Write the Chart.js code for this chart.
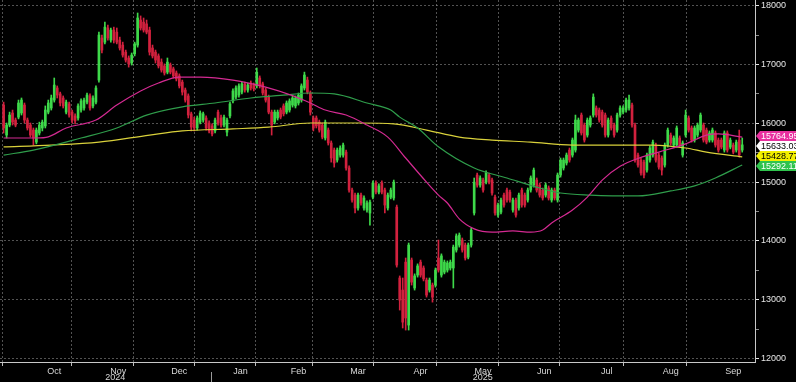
<!DOCTYPE html>
<html><head><meta charset="utf-8">
<style>html,body{margin:0;padding:0;background:#000;overflow:hidden}canvas{display:block}</style>
<script src="https://cdn.jsdelivr.net/npm/chart.js@4.4.1/dist/chart.umd.min.js"></script>
</head><body>
<canvas id="c" width="796" height="382"></canvas>
<script>
// session index of first candle (0 = first trading day of Oct 2024)
const firstSession = -6;
const opens = [
16310,15800,15970,16175,16055,16105,16175,16310,16055,15970,
15885,15680,15835,15920,15955,16190,16260,16395,16600,16500,
16430,16190,16330,16190,16125,16090,16225,16260,16360,16465,
16295,16360,16735,17450,17380,17620,17415,17585,17550,17415,
17330,17210,17110,17025,17180,17330,17755,17720,17690,17585,
17280,17210,17145,17040,16975,16870,16990,16925,16855,16805,
16700,16565,16465,16160,16055,15920,16020,16055,16090,16005,
15955,15870,16190,16090,15970,15850,16125,16380,16445,16480,
16530,16670,16565,16685,16650,16635,16770,16670,16565,16445,
16190,16020,16090,16225,16295,16190,16225,16310,16295,16345,
16395,16600,16735,16515,16090,16090,16020,15970,15750,15885,
15665,15545,15375,15460,15460,15510,15240,14865,14780,14560,
14780,14560,14525,14475,14745,14985,14830,14985,14865,14560,
14745,14730,14575,13370,13165,13640,12570,13675,13200,13420,
13640,13540,13335,13165,13250,13250,13710,13420,13470,13505,
13540,13540,13845,13930,14015,13930,13725,13930,14475,15120,
14950,15035,15000,15120,15035,14745,14440,14490,14780,14865,
14830,14525,14695,14560,14865,14780,14695,14865,14950,15035,
14950,14865,14780,14900,14695,14865,14695,15120,15240,15325,
15545,15460,15545,15885,16140,15970,15800,15970,16140,16260,
16225,16190,16140,15800,16090,15970,15885,16140,16190,16225,
16260,16310,15970,15460,15375,15340,15205,15375,15460,15630,
15460,15410,15290,15630,15800,15630,15630,15750,15460,15800,
16090,15920,15715,15800,15885,15970,15885,15715,15715,15835,
15715,15715,15545,15835,15595,15630,15545,15715,15545];
const highs = [
16360,16005,16190,16225,16090,16395,16430,16345,16090,16005,
15920,15920,16020,16055,16295,16395,16480,16770,16635,16530,
16465,16395,16360,16225,16160,16330,16415,16430,16515,16500,
16465,16635,17550,17500,17720,17670,17620,17635,17620,17465,
17380,17245,17145,17195,17380,17875,17825,17790,17755,17635,
17330,17245,17180,17095,17010,17110,17025,16955,16890,16840,
16735,16600,16500,16190,16105,16125,16210,16190,16125,16040,
15990,16090,16225,16140,16140,16090,16360,16585,16635,16670,
16700,16700,16685,16720,16685,16940,16805,16700,16600,16480,
16225,16225,16225,16260,16330,16380,16415,16465,16465,16515,
16670,16870,16785,16550,16125,16125,16055,16005,16055,15920,
15700,15580,15580,15615,15665,15545,15275,14900,14815,14815,
14815,14765,14680,14695,15020,15020,14970,15020,14900,14815,
14900,15035,14610,13405,13370,13710,13965,13710,13440,13610,
13675,13575,13370,13370,13285,13540,14015,13780,13675,13660,
13675,13930,14120,14135,14050,13965,13965,14220,15070,15155,
15105,15070,15190,15155,15070,14780,14645,14730,14815,14900,
14865,14730,14730,14815,14900,14815,14900,15105,15240,15070,
14985,14900,14985,14935,14900,14900,15155,15410,15410,15495,
15580,15750,16140,16090,16175,16005,16090,16125,16500,16295,
16260,16225,16175,16090,16125,16005,16175,16295,16295,16430,
16480,16345,16005,15495,15410,15375,15495,15615,15715,15665,
15495,15445,15665,15920,15835,15785,15955,15785,15700,16225,
16125,15955,15955,16005,16175,16005,15920,15870,15920,15870,
15750,15750,15870,15870,15750,15665,15715,15885,15750];
const lows = [
15835,15750,15940,15970,15940,16075,16140,16005,15885,15765,
15630,15650,15800,15870,15920,16160,16225,16360,16430,16295,
16260,16160,16105,16005,15990,16055,16190,16225,16330,16225,
16260,16330,16700,17195,17350,17415,17380,17365,17350,17245,
17125,17040,16955,16990,17145,17295,17585,17550,17520,17160,
17110,17025,16940,16870,16820,16840,16840,16770,16720,16600,
16480,16360,16090,15870,15870,15885,15990,16020,15885,15835,
15785,15835,15970,15935,15940,15785,16090,16345,16415,16445,
16500,16530,16530,16565,16550,16600,16600,16480,16360,16160,
15800,15990,16055,16075,16125,16160,16190,16275,16260,16310,
16360,16565,16500,16140,15870,15920,15850,15735,15715,15630,
15340,15255,15340,15425,15425,15205,14830,14660,14475,14525,
14610,14525,14490,14270,14715,14800,14800,14800,14475,14525,
14715,14695,13555,12825,12520,12485,12485,13250,13165,13385,
13385,13320,13045,13130,12960,13215,13470,13385,13440,13470,
13505,13200,13810,13895,13810,13675,13695,13895,14440,14915,
14915,14830,14970,14970,14780,14440,14405,14460,14575,14660,
14660,14490,14405,14525,14575,14575,14660,14830,14915,14830,
14745,14695,14745,14695,14660,14695,14660,15085,15205,15290,
15340,15425,15510,15850,15800,15680,15765,15935,16105,16105,
16020,15935,15765,15765,15885,15765,15850,16105,16160,16190,
16225,15935,15340,15255,15120,15070,15170,15340,15425,15340,
15220,15120,15255,15595,15630,15595,15595,15595,15425,15765,
15850,15680,15680,15765,15850,15680,15650,15680,15680,15595,
15510,15565,15510,15510,15565,15480,15510,15425,15510];
const closes = [
15920,15970,16140,16020,15970,16345,16395,16055,15920,15800,
15750,15885,15970,16020,16225,16345,16430,16650,16480,16345,
16295,16360,16140,16055,16040,16295,16380,16395,16480,16260,
16430,16600,17500,17245,17635,17450,17585,17415,17380,17280,
17160,17075,17010,17160,17350,17790,17620,17585,17550,17210,
17145,17075,16975,16905,16855,17040,16870,16805,16755,16635,
16530,16395,16140,15935,15920,16090,16175,16160,15920,15870,
15820,16055,16005,15970,16105,16055,16330,16550,16600,16635,
16670,16565,16650,16600,16585,16870,16635,16515,16395,16190,
15970,16190,16190,16105,16160,16345,16380,16430,16430,16480,
16635,16820,16530,16190,15920,15955,15885,15765,16020,15665,
15410,15325,15545,15580,15630,15240,14865,14695,14560,14780,
14645,14730,14645,14660,14985,14830,14935,14830,14610,14780,
14865,15000,13590,12995,12620,12690,13930,13300,13405,13575,
13420,13355,13080,13335,13045,13505,13505,13745,13640,13625,
13640,13895,14085,14100,13845,13710,13930,14185,15000,14950,
15070,14865,15155,15000,14815,14475,14610,14695,14610,14695,
14695,14695,14440,14780,14610,14610,14865,15070,15205,14865,
14780,14730,14950,14730,14865,14730,15120,15375,15375,15460,
15375,15715,16055,16055,15835,15715,16055,16090,16445,16140,
16055,15970,15800,16055,15920,15800,16140,16260,16260,16395,
16395,15970,15375,15290,15155,15120,15460,15580,15680,15375,
15255,15205,15630,15885,15665,15750,15920,15630,15665,16140,
15885,15715,15920,15970,16140,15715,15680,15835,15885,15630,
15545,15595,15835,15545,15715,15510,15680,15460,15633.03];

const monthNames  = ['Oct','Nov','Dec','Jan','Feb','Mar','Apr','May','Jun','Jul','Aug','Sep'];
const monthStarts = [0,23,43,64,84,103,124,145,166,186,208,229,250];
const yearNames   = ['2024','2025'];
const yearStartMonth = [0,3];

const ma50Idx = [-6,5,9,15,25,32,40,46,53,60,71,82,91,97,102,109,116,123,129,136,140,143,147,152,158,165,171,175,178,185,190,195,201,208,214,223,230,234,242];
const ma50    = [15750,15750,15770,15920,16055,16310,16550,16685,16785,16785,16735,16615,16470,16345,16225,16140,15970,15765,15410,15000,14780,14645,14375,14205,14150,14170,14150,14185,14305,14525,14745,15035,15270,15420,15510,15650,15800,15820,15764.95];
const ma100Idx = [-6,4,20,32,42,54,65,77,88,97,105,116,124,127,133,140,152,163,174,181,191,207,218,226,233,242];
const ma100    = [15460,15545,15750,15920,16140,16280,16345,16430,16480,16515,16500,16345,16225,16105,15920,15600,15240,15070,14900,14815,14780,14765,14850,14935,15070,15292.11];
const ma200Idx = [-6,10,26,43,54,71,83,97,114,125,136,147,158,171,185,201,212,223,230,242];
const ma200    = [15600,15630,15680,15800,15870,15905,15935,16005,16005,15990,15885,15765,15715,15680,15630,15630,15630,15580,15510,15428.77];

const yTicks = [12000,12500,13000,13500,14000,14500,15000,15500,16000,16500,17000,17500,18000];
const tagValues = [15764.95,15633.03,15428.77,15292.11];

const GREEN='#3ed94a', RED='#d2213e', MAG='#d42a92', MAGTAG='#e8309f', GRN='#2f9d4b', GRNTAG='#2fc34c', YEL='#d9d13b', YELTAG='#f2ef00';
const tagBg  = [MAGTAG,'#ffffff',YELTAG,GRNTAG];
const tagFg  = ['#ffffff','#000000','#000000','#ffffff'];
const tagDrawOrder = [0,3,2,1];

const sessions = opens.map((_,k)=>firstSession+k);
const candleCol = closes.map((c,k)=> c>=opens[k] ? GREEN : RED);

Chart.defaults.font.family = "'Liberation Sans', Arial, sans-serif";
Chart.defaults.font.size = 9;
Chart.defaults.color = '#d8d8d8';

const GRID = 'rgba(150,150,150,0.55)';

const extras = {
  id:'extras',
  afterDraw(chart){
    const {ctx, chartArea:a, scales:{x,y}} = chart;
    ctx.save();
    // year labels + separator
    ctx.font = "9px 'Liberation Sans', Arial, sans-serif";
    ctx.fillStyle = '#d8d8d8';
    ctx.textAlign='center'; ctx.textBaseline='middle';
    for (let k=0;k<yearNames.length;k++){
      const s = x.getPixelForValue(monthStarts[yearStartMonth[k]]-0.5);
      const e = k+1<yearNames.length ? x.getPixelForValue(monthStarts[yearStartMonth[k+1]]-0.5) : a.right;
      const l = Math.max(s,a.left);
      ctx.fillText(yearNames[k], (l+e)/2, 378);
      if (k>0){
        ctx.strokeStyle='#9a9a9a'; ctx.lineWidth=1;
        ctx.beginPath(); ctx.moveTo(Math.round(s)+0.5,372); ctx.lineTo(Math.round(s)+0.5,382); ctx.stroke();
      }
    }
    // value tags
    const ys = tagValues.map(v=>y.getPixelForValue(v));
    const order = ys.map((v,i)=>i).sort((p,q)=>ys[p]-ys[q]);
    const pos = ys.slice();
    const H = 10;
    for (let it=0; it<20; it++){
      for (let j=1;j<order.length;j++){
        const p=order[j-1], q=order[j];
        const d = H-(pos[q]-pos[p]);
        if (d>0){ pos[p]-=d/2; pos[q]+=d/2; }
      }
    }
    const x0 = a.right+1;
    for (const i of tagDrawOrder){
      const cy = pos[i];
      ctx.fillStyle = tagBg[i];
      ctx.beginPath();
      ctx.moveTo(x0, cy);
      ctx.lineTo(x0+4, cy-H/2);
      ctx.lineTo(chart.width, cy-H/2);
      ctx.lineTo(chart.width, cy+H/2);
      ctx.lineTo(x0+4, cy+H/2);
      ctx.closePath(); ctx.fill();
      ctx.fillStyle = tagFg[i];
      ctx.textAlign='left'; ctx.textBaseline='middle';
      ctx.fillText(tagValues[i].toFixed(2), x0+5, cy+0.5);
    }
    ctx.restore();
  }
};

new Chart(document.getElementById('c'), {
  type:'bar',
  data:{
    datasets:[
      {type:'line', data: ma50Idx.map((v,k)=>({x:v,y:ma50[k]})), borderColor:MAG, borderWidth:1.2, pointRadius:0, cubicInterpolationMode:'monotone', order:0},
      {type:'line', data: ma100Idx.map((v,k)=>({x:v,y:ma100[k]})), borderColor:GRN, borderWidth:1.2, pointRadius:0, cubicInterpolationMode:'monotone', order:0},
      {type:'line', data: ma200Idx.map((v,k)=>({x:v,y:ma200[k]})), borderColor:YEL, borderWidth:1.2, pointRadius:0, cubicInterpolationMode:'monotone', order:0},
      {type:'bar', data: sessions.map((v,k)=>({x:v, y:[Math.min(opens[k],closes[k]), Math.max(opens[k],closes[k])]})), backgroundColor:candleCol, barThickness:2, minBarLength:1, grouped:false, borderWidth:0, order:1},
      {type:'bar', data: sessions.map((v,k)=>({x:v, y:[lows[k], highs[k]]})), backgroundColor:candleCol, barThickness:1, grouped:false, borderWidth:0, order:2}
    ]
  },
  options:{
    responsive:false, animation:false, devicePixelRatio:1, events:[],
    layout:{padding:0},
    plugins:{legend:{display:false}, tooltip:{enabled:false}},
    scales:{
      x:{
        type:'linear', offset:false, min:-7.215, max:246.29,
        afterBuildTicks(s){
          const t=[];
          for(let m=0;m<monthNames.length;m++){
            t.push({value:monthStarts[m]-0.5, bound:true});
            t.push({value:(monthStarts[m]+monthStarts[m+1])/2-0.5, lab:monthNames[m]});
          }
          s.ticks=t;
        },
        afterFit(s){ s.height=20; s.paddingLeft=0; s.paddingRight=0; s.paddingTop=0; s.paddingBottom=0; },
        ticks:{autoSkip:false, maxRotation:0, minRotation:0, padding:0, color:'#d8d8d8',
          callback:(v,i,t)=> (t[i] && t[i].lab) ? t[i].lab : ''},
        grid:{color:(c)=> (c.tick && c.tick.bound) ? GRID : 'rgba(0,0,0,0)',
              tickColor:(c)=> (c.tick && c.tick.bound) ? '#bdbdbd' : 'rgba(0,0,0,0)',
              tickLength:4, lineWidth:1, borderDash:[2,2]},
        border:{display:true, color:'#c8c8c8', width:1, dash:[2,2]}
      },
      y:{
        type:'linear', position:'right', min:11942, max:18096,
        afterBuildTicks(s){ s.ticks = yTicks.map(v=>({value:v})); },
        afterFit(s){ s.width=41; s.paddingLeft=0; s.paddingRight=0; s.paddingTop=0; s.paddingBottom=0; },
        ticks:{padding:2, color:'#e6e6e6', callback:(v)=> v%1000===0 ? String(v) : ''},
        grid:{color:(c)=> (c.tick && c.tick.value%1000===0) ? GRID : 'rgba(0,0,0,0)',
              tickColor:(c)=> (c.tick && c.tick.value%1000===0) ? '#e6e6e6' : '#8a8a8a',
              tickLength:4, lineWidth:1, borderDash:[2,2]},
        border:{display:true, color:'#c8c8c8', width:1, dash:[2,2]}
      }
    }
  },
  plugins:[extras]
});
</script>
</body></html>
